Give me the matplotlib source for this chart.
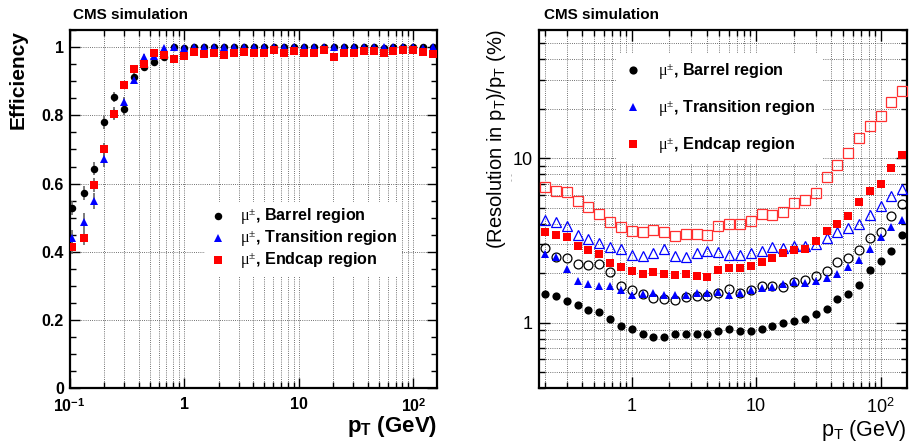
import numpy as np
import matplotlib
matplotlib.use("Agg")
import matplotlib.pyplot as plt
from matplotlib.ticker import LogLocator, FixedLocator, NullFormatter, FixedFormatter, MultipleLocator
from matplotlib.lines import Line2D

plt.rcParams['font.family'] = ['Liberation Sans', 'DejaVu Sans']
plt.rcParams['mathtext.fontset'] = 'custom'
plt.rcParams['mathtext.rm'] = 'Liberation Serif'
plt.rcParams['mathtext.it'] = 'Liberation Serif'
plt.rcParams['mathtext.bf'] = 'Liberation Serif:bold'

# ---------------- data ----------------
# efficiency panel: pT bin centres (GeV)
pt_eff = [0.1053, 0.1350, 0.1650, 0.2015, 0.2462, 0.3007, 0.3674, 0.4489, 0.5484,
          0.6699, 0.8185, 1.000, 1.222, 1.493, 1.823, 2.228, 2.722, 3.325, 4.062,
          4.963, 6.063, 7.407, 9.050, 11.06, 13.51, 16.50, 20.16, 24.63, 30.09,
          36.76, 44.92, 54.87, 67.04, 81.90, 100.0, 122.2, 149.3]
eff_barrel = [0.529, 0.572, 0.643, 0.779, 0.853, 0.818, 0.911, 0.943, 0.956,
              0.970, 0.999, 0.997, 1.000, 0.999, 1.000, 0.999, 1.000, 0.999, 1.000,
              0.999, 1.000, 0.999, 1.000, 0.999, 0.999, 1.000, 0.999, 0.999, 1.000,
              0.999, 0.999, 0.998, 0.999, 1.000, 0.999, 0.999, 0.999]
eff_trans = [0.440, 0.488, 0.548, 0.672, 0.805, 0.838, 0.904, 0.970, 0.975,
             0.997, 0.999, 0.996, 0.999, 0.999, 0.999, 0.999, 0.999, 0.999, 0.999,
             0.999, 0.999, 0.999, 0.999, 0.999, 0.999, 0.999, 0.999, 0.999, 0.999,
             0.999, 0.999, 0.999, 0.999, 0.999, 0.999, 0.998, 0.999]
eff_endcap = [0.415, 0.441, 0.595, 0.700, 0.804, 0.890, 0.936, 0.951, 0.984,
              0.977, 0.966, 0.974, 0.985, 0.979, 0.982, 0.978, 0.982, 0.987, 0.984,
              0.982, 0.990, 0.984, 0.989, 0.984, 0.982, 0.991, 0.971, 0.982, 0.982,
              0.989, 0.989, 0.984, 0.989, 0.992, 0.990, 0.985, 0.979]
err_barrel = [0.020, 0.020, 0.019, 0.018, 0.015, 0.016, 0.012, 0.010, 0.008,
              0.007, 0.003, 0.003] + [0.002] * 25
err_trans = [0.025, 0.025, 0.024, 0.022, 0.018, 0.016, 0.012, 0.010, 0.008,
             0.006, 0.003, 0.003] + [0.002] * 25
err_endcap = [0.022, 0.022, 0.020, 0.018, 0.015, 0.012, 0.010, 0.008, 0.006,
              0.005, 0.004, 0.004] + [0.003] * 25

# resolution panel
pt_res = [0.2015, 0.2462, 0.3007, 0.3674, 0.4489, 0.5484, 0.6699, 0.8185,
          1.000, 1.222, 1.493, 1.823, 2.228, 2.722, 3.325, 4.062, 4.963, 6.063,
          7.407, 9.050, 11.06, 13.51, 16.50, 20.16, 24.63, 30.09, 36.76, 44.92,
          54.87, 67.04, 81.90, 100.0, 122.2, 149.3]
res_barrel = [1.49, 1.46, 1.35, 1.29, 1.19, 1.16, 1.06, 0.955, 0.92, 0.858, 0.822,
              0.822, 0.858, 0.858, 0.858, 0.858, 0.89, 0.92, 0.89, 0.89, 0.92, 0.955,
              0.99, 1.02, 1.06, 1.13, 1.22, 1.40, 1.49, 1.69, 2.10, 2.36, 2.72, 3.40]
res_barrel_open = [2.85, 2.52, 2.47, 2.29, 2.25, 2.26, 2.03, 1.67, 1.59, 1.50, 1.42,
                   1.40, 1.38, 1.43, 1.46, 1.46, 1.52, 1.61, 1.52, 1.58, 1.67, 1.67,
                   1.65, 1.76, 1.83, 1.92, 2.06, 2.33, 2.47, 2.76, 3.26, 3.56, 4.43, 5.24]
res_trans = [2.62, 2.50, 2.12, 1.79, 1.72, 1.68, 1.67, 1.59, 1.48, 1.50, 1.52, 1.48,
             1.48, 1.48, 1.52, 1.52, 1.53, 1.48, 1.52, 1.58, 1.63, 1.65, 1.71, 1.76,
             1.75, 1.80, 1.87, 1.99, 2.17, 2.39, 2.81, 3.32, 3.82, 4.19]
res_trans_open = [4.19, 4.08, 3.85, 3.43, 3.23, 3.05, 2.89, 2.81, 2.57, 2.53, 2.66,
                  2.81, 2.56, 2.50, 2.66, 2.73, 2.69, 2.57, 2.59, 2.66, 2.74, 2.89,
                  2.85, 2.92, 2.92, 3.01, 3.27, 3.55, 3.75, 3.98, 4.53, 5.10, 5.85, 6.47]
res_endcap = [3.54, 3.43, 3.30, 2.92, 2.76, 2.61, 2.31, 2.17, 2.05, 1.99, 2.03, 1.99,
              1.96, 1.99, 1.92, 1.89, 2.09, 2.14, 2.14, 2.20, 2.35, 2.47, 2.64, 2.76,
              2.81, 3.12, 3.59, 4.00, 4.47, 5.39, 6.28, 6.99, 8.77, 10.4]
res_endcap_open = [6.64, 6.34, 6.25, 5.46, 5.05, 4.55, 4.07, 3.80, 3.59, 3.56, 3.68,
                   3.56, 3.35, 3.46, 3.46, 3.40, 3.89, 3.96, 3.96, 4.13, 4.55, 4.53,
                   4.72, 5.34, 5.54, 6.13, 7.64, 9.10, 10.8, 13.3, 15.7, 18.1, 21.8, 25.6]

labels = [r"$\mathrm{\mu^{\pm}}$, Barrel region",
          r"$\mathrm{\mu^{\pm}}$, Transition region",
          r"$\mathrm{\mu^{\pm}}$, Endcap region"]

BLUE = '#0000ff'
RED = '#ff0000'
grid_kw = dict(color='#444444', linestyle=(0, (1, 1.6)), linewidth=0.6)

fig = plt.figure(figsize=(9.09, 4.42), dpi=100)

# ---------------- left panel ----------------
ax1 = fig.add_axes([0.0765, 0.1215, 0.404, 0.8106])
ax1.set_xscale('log')
ax1.set_xlim(0.1, 160)
ax1.set_ylim(0, 1.05)
for v, e, m, c, ms in [(eff_barrel, err_barrel, 'o', 'black', 5.4),
                       (eff_trans, err_trans, '^', BLUE, 5.4),
                       (eff_endcap, err_endcap, 's', RED, 6.2)]:
    ax1.errorbar(pt_eff, v, yerr=e, fmt=m, color=c, ms=ms, mec=c, mew=0,
                 ecolor='#666666', elinewidth=1.2, capsize=0, zorder=3)
ax1.xaxis.set_major_locator(FixedLocator([0.1, 1, 10, 100]))
ax1.xaxis.set_major_formatter(FixedFormatter([r'10$^{\mathregular{-1}}$', '1', '10', r'10$^{\mathregular{2}}$']))
ax1.xaxis.set_minor_locator(LogLocator(base=10, subs=np.arange(2, 10)))
ax1.xaxis.set_minor_formatter(NullFormatter())
ax1.yaxis.set_major_locator(FixedLocator([0, 0.2, 0.4, 0.6, 0.8, 1.0]))
ax1.yaxis.set_major_formatter(FixedFormatter(['0', '0.2', '0.4', '0.6', '0.8', '1']))
ax1.yaxis.set_minor_locator(MultipleLocator(0.05))
ax1.grid(True, which='major', axis='y', **grid_kw)
ax1.grid(True, which='both', axis='x', **grid_kw)
ax1.tick_params(which='both', direction='in', top=True, right=True, width=1.0)
ax1.tick_params(which='major', length=7, labelsize=11.5)
ax1.tick_params(axis='x', which='major', pad=6)
ax1.tick_params(axis='y', which='major', pad=4)
ax1.tick_params(which='minor', length=4)
for lab in ax1.get_xticklabels() + ax1.get_yticklabels():
    lab.set_fontweight('bold')
for s in ax1.spines.values():
    s.set_linewidth(1.6)
ax1.set_ylabel('Efficiency', fontsize=15, fontweight='bold', loc='top')
ax1.yaxis.set_label_coords(-0.113, 1.0)
ax1.set_xlabel(r'p$_{\mathregular{T}}$ (GeV)', fontsize=16, fontweight='bold', loc='right')
ax1.xaxis.set_label_coords(1.0, -0.072)
ax1.text(0.01, 1.022, 'CMS simulation', transform=ax1.transAxes, fontsize=11,
         fontweight='bold', ha='left', va='bottom')

h1 = [Line2D([], [], ls='none', marker='o', color='black', ms=5.4, mew=0),
      Line2D([], [], ls='none', marker='^', color=BLUE, ms=5.4, mew=0),
      Line2D([], [], ls='none', marker='s', color=RED, ms=6.2, mew=0)]
leg1 = ax1.legend(h1, labels, loc='upper left', bbox_to_anchor=(0.37, 0.52),
                  frameon=True, fancybox=False, framealpha=1, edgecolor='none',
                  facecolor='white', prop=dict(size=11.6, weight='bold'),
                  handlelength=1.0, handletextpad=0.85, labelspacing=0.08,
                  borderpad=0.3, borderaxespad=0)
leg1.set_zorder(5)

# ---------------- right panel ----------------
ax2 = fig.add_axes([0.5933, 0.1215, 0.4042, 0.8106])
ax2.set_xscale('log')
ax2.set_yscale('log')
ax2.set_xlim(0.181, 162)
ax2.set_ylim(0.4, 60)
ax2.plot(pt_res, res_barrel_open, ls='none', marker='o', mfc='none', mec='black', ms=6.4, mew=0.9, zorder=3)
ax2.plot(pt_res, res_trans_open, ls='none', marker='^', mfc='none', mec=BLUE, ms=6.7, mew=0.9, zorder=3)
ax2.plot(pt_res, res_endcap_open, ls='none', marker='s', mfc='none', mec='#ff3030', ms=6.7, mew=0.9, zorder=3)
ax2.plot(pt_res, res_barrel, ls='none', marker='o', color='black', ms=5.9, mew=0, zorder=4)
ax2.plot(pt_res, res_trans, ls='none', marker='^', color=BLUE, ms=5.6, mew=0, zorder=4)
ax2.plot(pt_res, res_endcap, ls='none', marker='s', color=RED, ms=6.4, mew=0, zorder=4)
ax2.xaxis.set_major_locator(FixedLocator([1, 10, 100]))
ax2.xaxis.set_major_formatter(FixedFormatter(['1', '10', r'10$^{\mathregular{2}}$']))
ax2.xaxis.set_minor_locator(LogLocator(base=10, subs=np.arange(2, 10)))
ax2.xaxis.set_minor_formatter(NullFormatter())
ax2.yaxis.set_major_locator(FixedLocator([1, 10]))
ax2.yaxis.set_major_formatter(FixedFormatter(['1', '10']))
ax2.yaxis.set_minor_locator(LogLocator(base=10, subs=np.arange(2, 10)))
ax2.yaxis.set_minor_formatter(NullFormatter())
ax2.grid(True, which='both', axis='both', **grid_kw)
ax2.tick_params(which='both', direction='in', top=True, right=True, width=1.0)
ax2.tick_params(which='major', length=8, labelsize=13)
ax2.tick_params(axis='x', which='major', pad=7)
ax2.tick_params(axis='y', which='major', pad=5)
ax2.tick_params(which='minor', length=4)
for s in ax2.spines.values():
    s.set_linewidth(1.6)
ax2.set_ylabel(r'(Resolution in p$_{\mathregular{T}}$)/p$_{\mathregular{T}}$ (%)', fontsize=14.5, loc='top')
ax2.yaxis.set_label_coords(-0.085, 1.0)
ax2.set_xlabel(r'p$_{\mathregular{T}}$ (GeV)', fontsize=15.5, loc='right')
ax2.xaxis.set_label_coords(1.0, -0.083)
ax2.text(0.013, 1.022, 'CMS simulation', transform=ax2.transAxes, fontsize=11,
         fontweight='bold', ha='left', va='bottom')
ax2.text(-0.072, 0.59, '- -', transform=ax2.transAxes, fontsize=6, rotation=90,
         color='#888888', ha='center', va='center')

h2 = [Line2D([], [], ls='none', marker='o', color='black', ms=5.9, mew=0),
      Line2D([], [], ls='none', marker='^', color=BLUE, ms=5.6, mew=0),
      Line2D([], [], ls='none', marker='s', color=RED, ms=6.4, mew=0)]
leg2 = ax2.legend(h2, labels, loc='upper left', bbox_to_anchor=(0.21, 0.935),
                  frameon=True, fancybox=False, framealpha=1, edgecolor='none',
                  facecolor='white', prop=dict(size=11.6, weight='bold'),
                  handlelength=1.0, handletextpad=1.05, labelspacing=1.02,
                  borderpad=0.5, borderaxespad=0)
leg2.set_zorder(5)

fig.savefig('out.png', dpi=100)
